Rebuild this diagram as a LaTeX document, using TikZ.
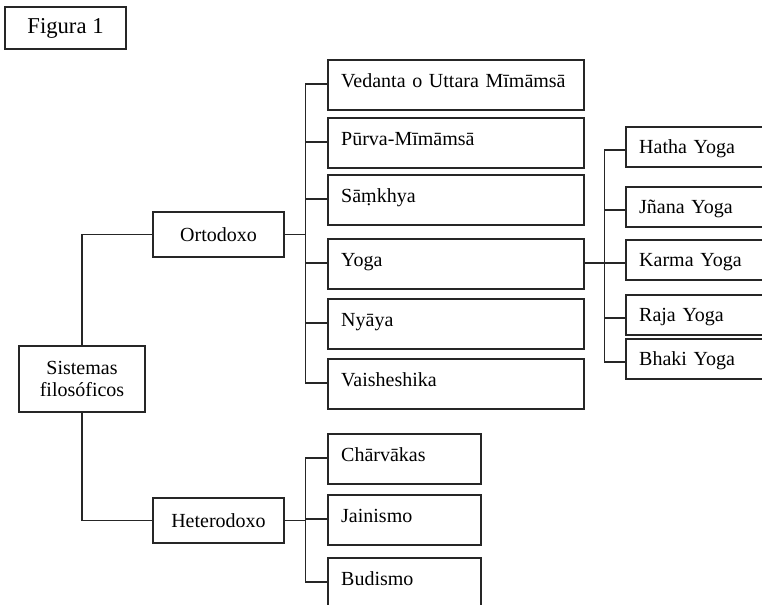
\documentclass[tikz,border=0pt]{standalone}
\usepackage{fontspec}
\setmainfont{Liberation Serif}
\begin{document}
\begin{tikzpicture}[x=0.75pt, y=-0.75pt, font=\fontsize{15}{17}\selectfont,
    box/.style={draw=black!85, line width=1.3pt, rectangle},
    link/.style={draw=black!85, line width=1.1pt},
    branch/.style={box, minimum width=98pt, minimum height=34pt},
    school/.style={box, anchor=mid west, align=left, inner xsep=10pt, inner ysep=0pt,
        text width=172pt, text height=20.5pt, text depth=17pt},
    other/.style={school, text width=94.75pt},
    yogabox/.style={box, anchor=mid west, align=left, inner xsep=10pt, inner ysep=0pt,
        text width=107.5pt, text height=19.7pt, text depth=10.3pt}]
    \useasboundingbox (0,0) rectangle (762,604);
    \clip (0,0) rectangle (762,604);

    \node[box, line width=1.6pt, minimum width=91pt, minimum height=31.5pt,
        font=\fontsize{17}{19}\selectfont] (fig) at (65.5,28) {Figura 1};

    \node[box, align=center, minimum width=94.5pt, minimum height=49.5pt] (sis) at (82,379) {Sistemas\\filosóficos};
    \node[branch] (ort) at (218.5,234.5) {Ortodoxo};
    \node[branch] (het) at (218.5,520.5) {Heterodoxo};

    \node[school] (ved) at (327,84) {Vedanta o Uttara Mīmāmsā};
    \node[school] (pur) at (327,142) {Pūrva-Mīmāmsā};
    \node[school] (sam) at (327,199) {Sāṃkhya};
    \node[school] (yog) at (327,263) {Yoga};
    \node[school] (nya) at (327,323) {Nyāya};
    \node[school] (vai) at (327,383) {Vaisheshika};

    \node[other] (cha) at (327,458) {Chārvākas};
    \node[other] (jai) at (327,519) {Jainismo};
    \node[other] (bud) at (327,582) {Budismo};

    \node[yogabox] (hat) at (625,150) {Hatha Yoga};
    \node[yogabox] (jna) at (625,210) {Jñana Yoga};
    \node[yogabox] (kar) at (625,263) {Karma Yoga};
    \node[yogabox] (raj) at (625,318) {Raja Yoga};
    \node[yogabox] (bha) at (625,362) {Bhaki Yoga};

    \draw[link] (sis.north) |- (ort.west);
    \draw[link] (sis.south) |- (het.west);

    \draw[link] (ort.east) -- ++(21,0) coordinate (otrunk);
    \foreach \n in {ved,pur,sam,yog,nya,vai}
        \draw[link] (otrunk) |- (\n.mid west);

    \draw[link] (het.east) -- ++(21,0) coordinate (htrunk);
    \foreach \n in {cha,jai,bud}
        \draw[link] (htrunk) |- (\n.mid west);

    \draw[link] (yog.mid east) -- ++(20,0) coordinate (ytrunk);
    \foreach \n in {hat,jna,kar,raj,bha}
        \draw[link] (ytrunk) |- (\n.mid west);
\end{tikzpicture}
\end{document}
